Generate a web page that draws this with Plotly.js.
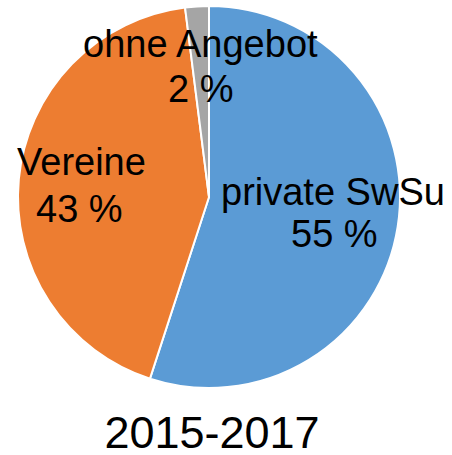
<!DOCTYPE html>
<html>
<head>
<meta charset="utf-8">
<script src="https://cdn.plot.ly/plotly-3.0.1.min.js"></script>
<style>html,body{margin:0;padding:0;background:#fff;}#chart{width:452px;height:455px;}</style>
</head>
<body>
<div id="chart"></div>
<script>
const labels = ["private SwSu", "Vereine", "ohne Angebot"];
const values = [55, 43, 2];
const colors = ["#5b9bd5", "#ed7d31", "#a5a5a5"];
const titleText = "2015-2017";

const W = 452, H = 455;
// label anchor positions in pixels [x of name, y of name, x of pct, y of pct]
const labelPos = [
  [333, 192, 334, 234],
  [81, 162, 79, 209],
  [200, 44, 200, 89]
];
const px = x => x / W;
const py = y => 1 - y / H;
const font = {family: "Liberation Sans, Arial, Helvetica, sans-serif", size: 38, color: "#000"};

const annotations = [];
labels.forEach((lab, i) => {
  const p = labelPos[i];
  annotations.push({text: lab, x: px(p[0]), y: py(p[1]), xref: "paper", yref: "paper",
    xanchor: "center", yanchor: "middle", showarrow: false, font: font});
  annotations.push({text: values[i] + " %", x: px(p[2]), y: py(p[3]), xref: "paper", yref: "paper",
    xanchor: "center", yanchor: "middle", showarrow: false, font: font});
});

const data = [{
  type: "pie",
  labels: labels,
  values: values,
  sort: false,
  direction: "clockwise",
  rotation: 0,
  marker: {colors: colors, line: {color: "#ffffff", width: 2}},
  textinfo: "none",
  hoverinfo: "none",
  domain: {x: [18 / W, 400 / W], y: [1 - 388 / H, 1 - 6 / H]}
}];

const layout = {
  width: W, height: H,
  margin: {l: 0, r: 0, t: 0, b: 0},
  paper_bgcolor: "#fff",
  showlegend: false,
  title: {text: titleText, x: 212 / W, xanchor: "center", xref: "paper",
    y: 1 - 432 / H, yanchor: "middle", yref: "container",
    font: {family: "Liberation Sans, Arial, Helvetica, sans-serif", size: 45, color: "#000"}},
  annotations: annotations
};

Plotly.newPlot("chart", data, layout, {displayModeBar: false, staticPlot: true});
</script>
</body>
</html>
